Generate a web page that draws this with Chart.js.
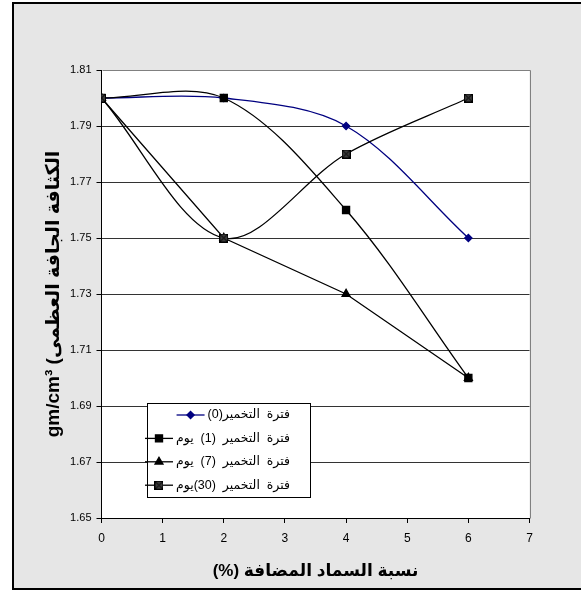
<!DOCTYPE html>
<html><head><meta charset="utf-8">
<script src="https://cdn.jsdelivr.net/npm/chart.js@4/dist/chart.umd.min.js"></script>
<style>html,body{margin:0;padding:0;background:#fff;}canvas{display:block;}</style>
</head><body>
<canvas id="c" width="581" height="592"></canvas>
<script>
const xValues = [0, 2, 4, 6];
const seriesLabels = ['فترة  التخمير(0)', 'فترة  التخمير  (1)  يوم', 'فترة  التخمير  (7)  يوم', 'فترة  التخمير  (30)يوم'];
const density0 = [1.80, 1.80, 1.79, 1.75];
const density1 = [1.80, 1.80, 1.76, 1.70];
const density7 = [1.80, 1.75, 1.73, 1.70];
const density30 = [1.80, 1.75, 1.78, 1.80];
const xTicks = [0, 1, 2, 3, 4, 5, 6, 7];
const yTicks = [1.65, 1.67, 1.69, 1.71, 1.73, 1.75, 1.77, 1.79, 1.81];
const xTitle = '(%) نسبة السماد المضافة';
const yTitle = 'gm/cm³ (الكثافة الجافة العظمى';

const FONT = '"Liberation Sans", Arial, "DejaVu Sans", sans-serif';

function crossSquare(size) {
  const c = document.createElement('canvas');
  c.width = size; c.height = size;
  const g = c.getContext('2d');
  g.fillStyle = '#3a3a3a';
  g.fillRect(0, 0, size, size);
  g.strokeStyle = '#000';
  g.lineWidth = 1;
  g.strokeRect(0.5, 0.5, size - 1, size - 1);
  g.beginPath();
  g.moveTo(1, 1); g.lineTo(size - 1, size - 1);
  g.moveTo(size - 1, 1); g.lineTo(1, size - 1);
  g.stroke();
  return c;
}
const xSquare = crossSquare(9);

function pts(arr) { return xValues.map((x, i) => ({ x: x, y: arr[i] })); }

const bgPlugin = {
  id: 'bg',
  beforeDraw(chart) {
    const ctx = chart.ctx, a = chart.chartArea;
    ctx.save();
    ctx.fillStyle = '#fff';
    ctx.fillRect(0, 0, chart.width, chart.height);
    ctx.fillStyle = '#e6e6e6';
    ctx.fillRect(13, 3, chart.width - 13, 586);
    ctx.strokeStyle = '#000';
    ctx.lineWidth = 2;
    ctx.beginPath();
    ctx.moveTo(13, 3); ctx.lineTo(chart.width + 2, 3);
    ctx.moveTo(13, 2); ctx.lineTo(13, 590);
    ctx.moveTo(12, 589); ctx.lineTo(chart.width + 2, 589);
    ctx.stroke();
    ctx.fillStyle = '#fff';
    ctx.fillRect(a.left, a.top, a.right - a.left, a.bottom - a.top);
    ctx.restore();
  },
  beforeDatasetsDraw(chart) {
    const ctx = chart.ctx, a = chart.chartArea;
    ctx.save();
    ctx.strokeStyle = '#808080';
    ctx.lineWidth = 1;
    ctx.beginPath();
    ctx.moveTo(Math.round(a.left) + 0.5, Math.round(a.top) + 0.5);
    ctx.lineTo(Math.round(a.right) + 0.5, Math.round(a.top) + 0.5);
    ctx.lineTo(Math.round(a.right) + 0.5, Math.round(a.bottom) + 0.5);
    ctx.stroke();
    ctx.restore();
  }
};

const legendPlugin = {
  id: 'boxLegend',
  afterDraw(chart) {
    const ctx = chart.ctx;
    const box = { l: 147, t: 403, r: 310, b: 497 };
    ctx.save();
    ctx.fillStyle = '#fff';
    ctx.fillRect(box.l, box.t, box.r - box.l, box.b - box.t);
    ctx.strokeStyle = '#000';
    ctx.lineWidth = 1;
    ctx.strokeRect(box.l + 0.5, box.t + 0.5, box.r - box.l, box.b - box.t);
    ctx.font = '12.5px ' + FONT;
    ctx.textBaseline = 'middle';
    ctx.direction = 'rtl';
    ctx.textAlign = 'right';
    const textRight = 290;
    chart.data.datasets.forEach((ds, i) => {
      const y = 415 + i * 23.4;
      ctx.fillStyle = '#000';
      ctx.fillText(ds.label, textRight, y);
      const w = ctx.measureText(ds.label).width;
      const lineEnd = textRight - w - 3;
      const lineStart = lineEnd - 28;
      ctx.strokeStyle = ds.borderColor;
      ctx.lineWidth = 1.3;
      ctx.beginPath();
      ctx.moveTo(lineStart, y); ctx.lineTo(lineEnd, y);
      ctx.stroke();
      ctx.fillStyle = ds.backgroundColor;
      Chart.helpers.drawPoint(ctx, { pointStyle: ds.pointStyle, radius: ds.pointRadius, rotation: 0, borderWidth: 1 }, (lineStart + lineEnd) / 2, y);
    });
    ctx.restore();
  }
};

const common = { borderWidth: 1.3, cubicInterpolationMode: 'default', fill: false };

new Chart(document.getElementById('c'), {
  type: 'line',
  data: {
    datasets: [
      Object.assign({ label: seriesLabels[0], data: pts(density0), borderColor: '#000080', backgroundColor: '#000080', pointStyle: 'rectRot', pointRadius: 3.6, tension: 0.33, order: 3 }, common),
      Object.assign({ label: seriesLabels[1], data: pts(density1), borderColor: '#000', backgroundColor: '#000', pointStyle: 'rect', pointRadius: 5, tension: 0.33, order: 2 }, common),
      Object.assign({ label: seriesLabels[2], data: pts(density7), borderColor: '#000', backgroundColor: '#000', pointStyle: 'triangle', pointRadius: 4.6, tension: 0, order: 1 }, common),
      Object.assign({ label: seriesLabels[3], data: pts(density30), borderColor: '#000', backgroundColor: '#3a3a3a', pointStyle: xSquare, pointRadius: 4.5, tension: 0.33, order: 0 }, common)
    ]
  },
  options: {
    responsive: false,
    animation: false,
    devicePixelRatio: 1,
    layout: { padding: { left: 40, right: 51.5, top: 70, bottom: 4 } },
    plugins: { legend: { display: false }, tooltip: { enabled: false } },
    scales: {
      x: {
        type: 'linear', min: 0, max: 7,
        afterBuildTicks: s => { s.ticks = xTicks.map(v => ({ value: v })); },
        afterFit: s => { s.height = 70; },
        ticks: { color: '#000', font: { size: 12, family: FONT }, padding: 8, maxRotation: 0 },
        grid: { drawOnChartArea: false, drawTicks: true, tickLength: 5, tickColor: '#000' },
        border: { color: '#000', width: 1 },
        title: { display: true, text: xTitle, color: '#000', font: { size: 17, weight: 'bold', family: FONT }, padding: { top: 0, bottom: 6 } }
      },
      y: {
        type: 'linear', min: 1.65, max: 1.81,
        afterBuildTicks: s => { s.ticks = yTicks.map(v => ({ value: v })); },
        afterFit: s => { s.width = 61.5; },
        ticks: { color: '#000', font: { size: 11, family: FONT }, padding: 5, callback: v => v.toFixed(2) },
        grid: {
          color: c => (c.tick && c.tick.value > 1.805) ? 'rgba(0,0,0,0)' : '#333',
          lineWidth: 1, drawTicks: true, tickLength: 5, tickColor: '#000'
        },
        border: { color: '#000', width: 1 },
        title: { display: true, text: yTitle, color: '#000', font: { size: 19, weight: 'bold', family: FONT }, padding: { top: 2, bottom: 0 } }
      }
    }
  },
  plugins: [bgPlugin, legendPlugin]
});
</script>
</body></html>
